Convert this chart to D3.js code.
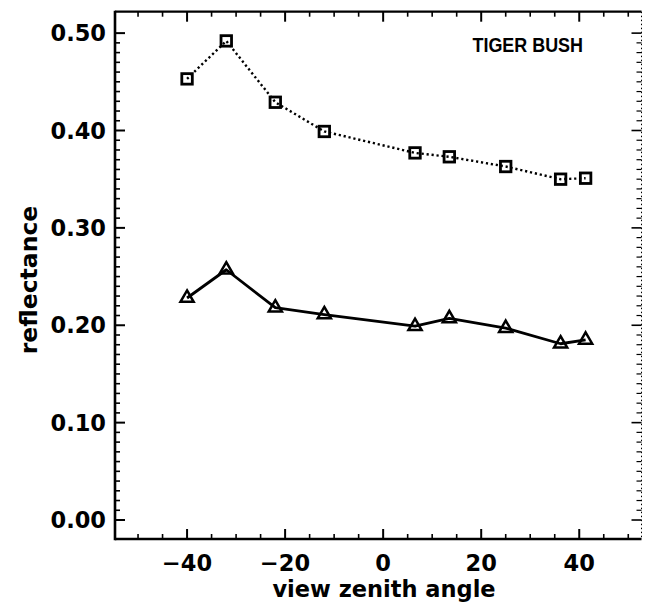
<!DOCTYPE html>
<html>
<head>
<meta charset="utf-8">
<script src="https://cdn.jsdelivr.net/npm/d3@7"></script>
<style>
  html, body { margin: 0; padding: 0; background: #fff; }
  svg { display: block; }
</style>
</head>
<body>
<script>
// ---- data ----
const angles = [-40, -32, -22, -12, 6.5, 13.5, 25, 36.2, 41.3];
const nirReflectance = [0.453, 0.492, 0.429, 0.399, 0.377, 0.373, 0.363, 0.350, 0.351];
const redReflectance = [0.228, 0.257, 0.218, 0.211, 0.199, 0.207, 0.197, 0.181, 0.185];
const xMajorTicks = [-40, -20, 0, 20, 40];
const yMajorTicks = [0.0, 0.1, 0.2, 0.3, 0.4, 0.5];
const yTickLabels = ["0.00", "0.10", "0.20", "0.30", "0.40", "0.50"];
const chartTitle = "TIGER BUSH";
const xTitle = "view zenith angle";
const yTitle = "reflectance";

(function () {
const W = 645, H = 612;
const L = 115, R = 641.5, T = 11.7, B = 539;

const svg = d3.select("body").append("svg").attr("width", W).attr("height", H);

const x = d3.scaleLinear().domain([-54.7, 52.7]).range([L, R]);
const y = d3.scaleLinear().domain([-0.0195, 0.522]).range([B, T]);

const xMinor = d3.range(-50, 51, 5).filter(v => !xMajorTicks.includes(v));
const yMinor = d3.range(0, 51, 1).map(v => v / 100).filter(v => !yMajorTicks.some(m => Math.abs(m - v) < 1e-9));

const major = 10, minor = 5;
const axG = svg.append("g").attr("stroke", "#000").attr("fill", "none");

const gBottom = axG.append("g");
gBottom.selectAll("line.maj").data(xMajorTicks).join("line").attr("class", "maj")
  .attr("x1", d => x(d)).attr("x2", d => x(d)).attr("y1", B).attr("y2", B - major).attr("stroke-width", 2);
gBottom.selectAll("line.min").data(xMinor).join("line").attr("class", "min")
  .attr("x1", d => x(d)).attr("x2", d => x(d)).attr("y1", B).attr("y2", B - minor).attr("stroke-width", 1.6);

const gTop = axG.append("g");
gTop.selectAll("line.maj").data(xMajorTicks).join("line").attr("class", "maj")
  .attr("x1", d => x(d)).attr("x2", d => x(d)).attr("y1", T).attr("y2", T + major).attr("stroke-width", 2);
gTop.selectAll("line.min").data(xMinor).join("line").attr("class", "min")
  .attr("x1", d => x(d)).attr("x2", d => x(d)).attr("y1", T).attr("y2", T + minor).attr("stroke-width", 1.6);

const gLeft = axG.append("g");
gLeft.selectAll("line.maj").data(yMajorTicks).join("line").attr("class", "maj")
  .attr("x1", L).attr("x2", L + major).attr("y1", d => y(d)).attr("y2", d => y(d)).attr("stroke-width", 2);
gLeft.selectAll("line.min").data(yMinor).join("line").attr("class", "min")
  .attr("x1", L).attr("x2", L + minor).attr("y1", d => y(d)).attr("y2", d => y(d)).attr("stroke-width", 1.6);

const gRight = axG.append("g");
gRight.selectAll("line.maj").data(yMajorTicks).join("line").attr("class", "maj")
  .attr("x1", R).attr("x2", R - major).attr("y1", d => y(d)).attr("y2", d => y(d)).attr("stroke-width", 1.6);
gRight.selectAll("line.min").data(yMinor).join("line").attr("class", "min")
  .attr("x1", R).attr("x2", R - minor).attr("y1", d => y(d)).attr("y2", d => y(d)).attr("stroke-width", 1.2);

// frame
axG.append("line").attr("x1", L).attr("x2", R).attr("y1", B).attr("y2", B).attr("stroke-width", 2.6);
axG.append("line").attr("x1", L).attr("x2", R).attr("y1", T).attr("y2", T).attr("stroke-width", 2.2);
axG.append("line").attr("x1", L).attr("x2", L).attr("y1", T - 1).attr("y2", B + 1.3).attr("stroke-width", 2.6);
axG.append("line").attr("x1", R).attr("x2", R).attr("y1", T).attr("y2", B).attr("stroke-width", 1).attr("stroke-dasharray", "1.5,2.5");

const font = "'DejaVu Sans', 'Liberation Sans', sans-serif";
svg.append("g").selectAll("text").data(xMajorTicks).join("text")
  .attr("x", d => x(d)).attr("y", 571)
  .attr("text-anchor", "middle")
  .attr("font-family", font).attr("font-weight", "bold").attr("font-size", 22.5)
  .text(d => d < 0 ? "\u2212" + Math.abs(d) : String(d));

svg.append("g").selectAll("text").data(yMajorTicks).join("text")
  .attr("x", 106).attr("y", d => y(d) + 8.2)
  .attr("text-anchor", "end")
  .attr("font-family", font).attr("font-weight", "bold").attr("font-size", 22.5)
  .text((d, i) => yTickLabels[i]);

svg.append("text").attr("x", 384).attr("y", 597).attr("text-anchor", "middle")
  .attr("font-family", font).attr("font-weight", "bold").attr("font-size", 22.5)
  .text(xTitle);
svg.append("text").attr("transform", "translate(37,280) rotate(-90)").attr("text-anchor", "middle")
  .attr("font-family", font).attr("font-weight", "bold").attr("font-size", 23.5)
  .text(yTitle);

svg.append("text").attr("transform", "translate(583,52) scale(0.92,1)").attr("text-anchor", "end")
  .attr("font-family", "'Liberation Sans', sans-serif").attr("font-weight", "bold").attr("font-size", 19.5)
  .text(chartTitle);

const nirData = angles.map((a, i) => ({ a, v: nirReflectance[i] }));
const redData = angles.map((a, i) => ({ a, v: redReflectance[i] }));
const line = d3.line().x(d => x(d.a)).y(d => y(d.v));

svg.append("path").datum(nirData).attr("d", line)
  .attr("fill", "none").attr("stroke", "#000").attr("stroke-width", 2.4)
  .attr("stroke-dasharray", "2.2,2.8");
svg.append("path").datum(redData).attr("d", line)
  .attr("fill", "none").attr("stroke", "#000").attr("stroke-width", 2.8).attr("stroke-linejoin", "round");

const sq = 10.5;
svg.append("g").selectAll("rect").data(nirData).join("rect")
  .attr("x", d => x(d.a) - sq / 2).attr("y", d => y(d.v) - sq / 2)
  .attr("width", sq).attr("height", sq)
  .attr("fill", "none").attr("stroke", "#000").attr("stroke-width", 2.8);

const tri = d3.symbol().type(d3.symbolTriangle).size(75);
svg.append("g").selectAll("path").data(redData).join("path")
  .attr("transform", d => `translate(${x(d.a)},${y(d.v)})`)
  .attr("d", tri)
  .attr("fill", "none").attr("stroke", "#000").attr("stroke-width", 2.5).attr("stroke-linejoin", "miter");
})();
</script>
</body>
</html>
